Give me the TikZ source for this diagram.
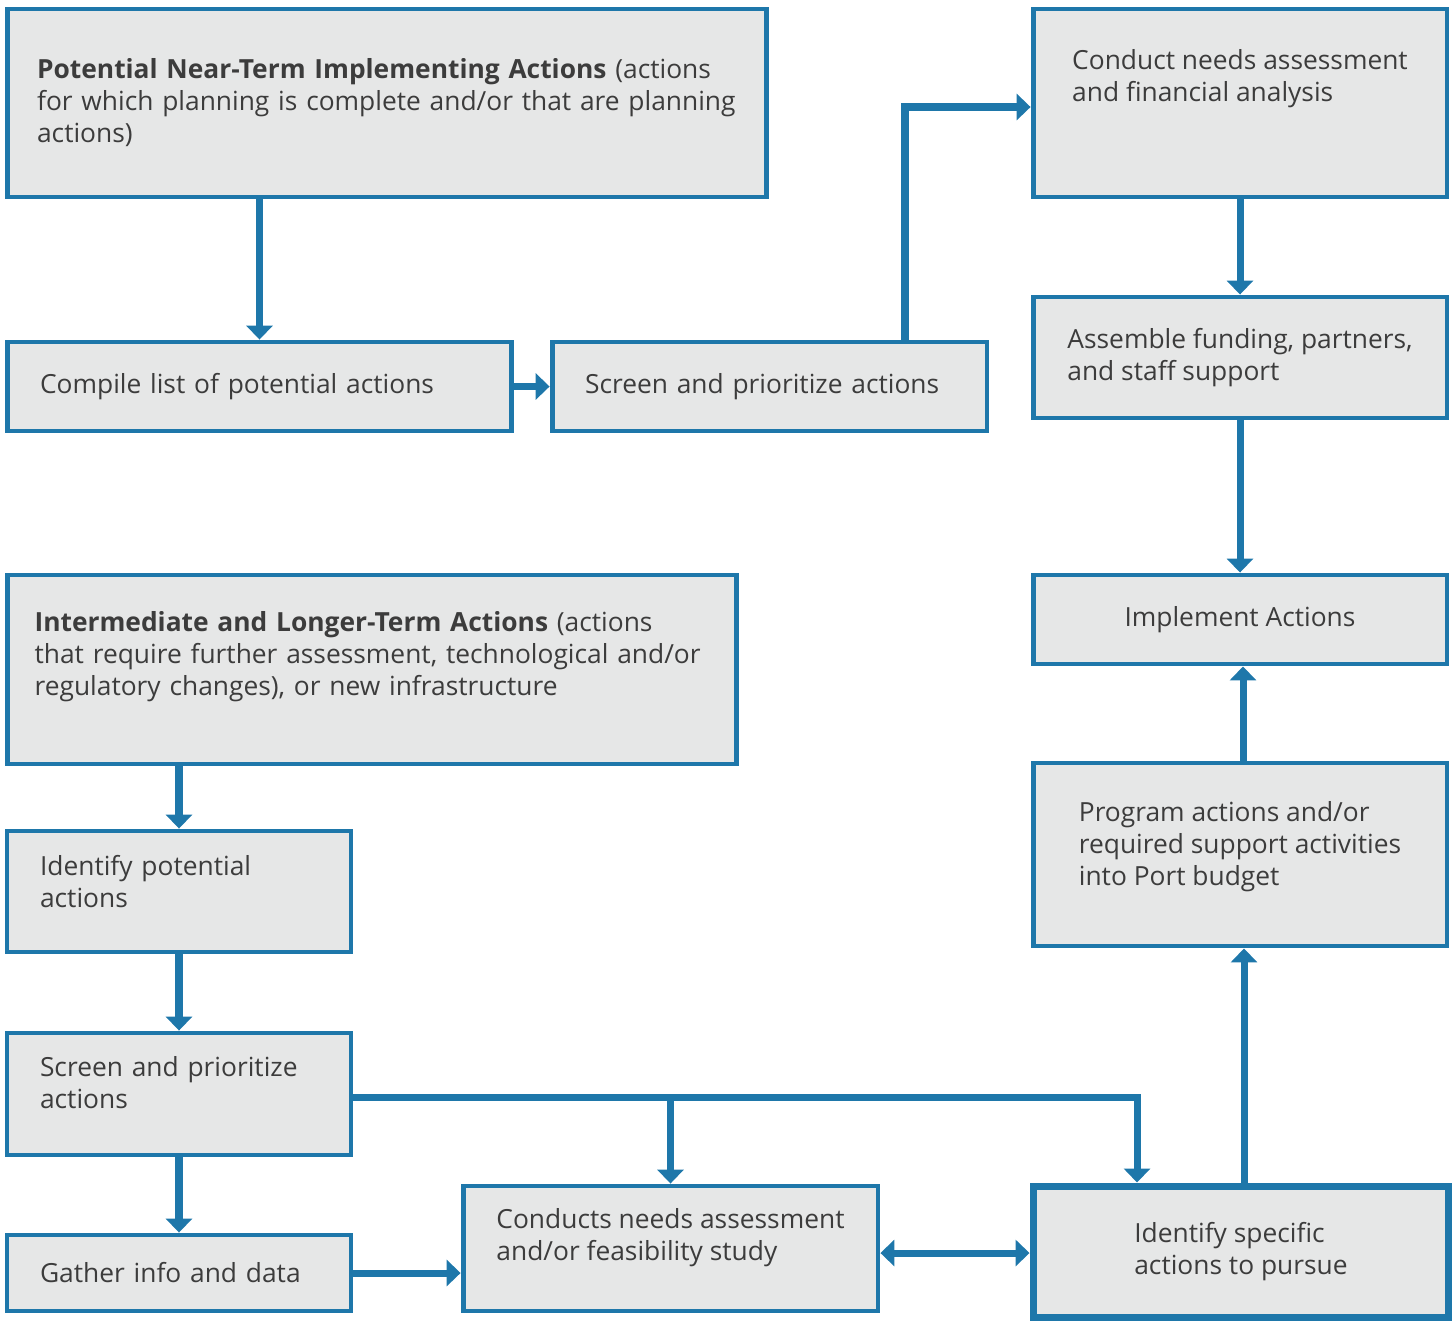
\documentclass[tikz,border=0pt]{standalone}
\usepackage{fontspec}
\setmainfont{Open Sans}
\usetikzlibrary{arrows.meta}

\definecolor{portblue}{RGB}{30,119,170}
\definecolor{boxgray}{RGB}{230,231,231}
\definecolor{boxtext}{RGB}{60,60,60}

\newcommand{\lift}[1]{\rule[-#1]{0pt}{0pt}}

\tikzset{
  box/.style={draw=portblue, fill=boxgray, line width=2.8pt, inner sep=0pt,
    align=left, text=boxtext, font=\fontsize{15}{18.2}\selectfont},
  arr/.style={draw=portblue, line width=4pt,
    -{Triangle[length=0.28cm,width=0.52cm]}},
}

\begin{document}
\begin{tikzpicture}[x=0.02cm, y=-0.02cm]
\useasboundingbox (0,0) rectangle (1453,1320);

% near-term branch
\node[box, minimum width=15.2cm, minimum height=3.76cm, text width=14.0cm] (near) at (387,103)
  {\textbf{Potential Near-Term Implementing Actions} (actions\\for which planning is complete and/or that are planning\\actions)};
\node[box, minimum width=10.1cm, minimum height=1.78cm, text width=8.78cm] (compile) at (259.5,386.5)
  {Compile list of potential actions};
\node[box, minimum width=8.7cm, minimum height=1.78cm, text width=7.38cm] (screenA) at (769.5,386.5)
  {Screen and prioritize actions};
\node[box, minimum width=8.28cm, minimum height=3.76cm] (needs) at (1240,103)
  {Conduct needs assessment\\and financial analysis\lift{1.1cm}};
\node[box, minimum width=8.28cm, minimum height=2.42cm] (fund) at (1240,357.5)
  {Assemble funding, partners,\\and staff support};
\node[box, minimum width=8.28cm, minimum height=1.78cm] (impl) at (1240,619.5)
  {Implement Actions};
\node[box, minimum width=8.28cm, minimum height=3.66cm] (budget) at (1240,854.5)
  {Program actions and/or\\required support activities\\into Port budget\lift{0.45cm}};

% longer-term branch
\node[box, minimum width=14.6cm, minimum height=3.78cm, text width=13.5cm] (inter) at (372,669.5)
  {\textbf{Intermediate and Longer-Term Actions} (actions\\that require further assessment, technological and/or\\regulatory changes), or new infrastructure\lift{0.65cm}};
\node[box, minimum width=6.88cm, minimum height=2.42cm, text width=5.56cm] (ident) at (179,891.5)
  {Identify potential\\actions\lift{0.42cm}};
\node[box, minimum width=6.88cm, minimum height=2.44cm, text width=5.56cm] (screenB) at (179,1094)
  {Screen and prioritize\\actions\lift{0.45cm}};
\node[box, minimum width=6.88cm, minimum height=1.52cm, text width=5.56cm] (gather) at (179,1273)
  {Gather info and data};
\node[box, minimum width=8.3cm, minimum height=2.5cm] (study) at (670.5,1248.5)
  {Conducts needs assessment\\and/or feasibility study\lift{0.55cm}};
\node[box, line width=4pt, minimum width=8.32cm, minimum height=2.62cm] (pursue) at (1241,1251.5)
  {Identify specific\\actions to pursue};

% connectors
\draw[arr] (near.south -| compile.north) -- (compile.north);
\draw[arr] (compile.east) -- (screenA.west);
\draw[arr] ([xshift=2.71cm]screenA.north) |- ([yshift=-0.08cm]needs.west);
\draw[arr] (needs.south) -- (fund.north);
\draw[arr] (fund.south) -- (impl.north);
\draw[arr] ([xshift=0.06cm]budget.north) -- ([xshift=0.06cm]impl.south);
\draw[arr] ([xshift=0.06cm]pursue.north) -- ([xshift=0.06cm]pursue.north |- budget.south);

\draw[arr] (inter.south -| ident.north) -- (ident.north);
\draw[arr] (ident.south) -- (screenB.north);
\draw[arr] (screenB.south) -- (gather.north);
\draw[arr] (gather.east) -- (gather.east -| study.west);
\draw[arr] ([yshift=-0.06cm]screenB.east) -| (study.north);
\draw[arr] ([yshift=-0.06cm]screenB.east) -| ([xshift=-2.08cm]pursue.north);
\draw[arr, {Triangle[length=0.28cm,width=0.52cm]}-{Triangle[length=0.28cm,width=0.52cm]}]
  ([yshift=-0.09cm]study.east) -- ([yshift=-0.09cm]study.east -| pursue.west);
\end{tikzpicture}
\end{document}
